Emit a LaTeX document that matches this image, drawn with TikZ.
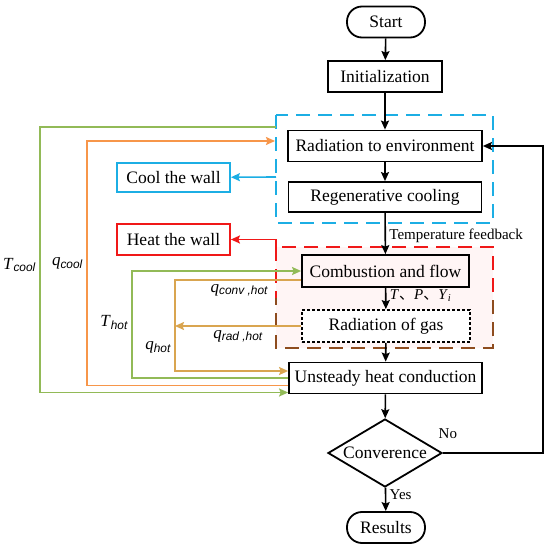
\documentclass[tikz,border=0pt]{standalone}
\usepackage{fontspec}
\setmainfont{Liberation Serif}
\setsansfont{Liberation Sans}
\newfontfamily\cjk{Noto Sans CJK SC}
\usetikzlibrary{shapes.geometric,arrows.meta}

\definecolor{cgreen}{HTML}{92BA57}
\definecolor{corange}{HTML}{F7964A}
\definecolor{ctan}{HTML}{D9A550}
\definecolor{cblue}{HTML}{1CAEE4}
\definecolor{cred}{HTML}{F01818}
\definecolor{cbrown}{HTML}{8E4C1E}

\newcommand{\varsym}[2]{\textit{#1}\textsubscript{\sffamily\itshape #2}}

\begin{document}
\begin{tikzpicture}[x=1pt,y=-1pt,
    box/.style={draw,line width=1.8pt,minimum height=31pt,inner sep=2pt,font=\fontsize{17.5}{20}\selectfont},
    term/.style={box,rounded corners=15pt,minimum width=78pt},
    decide/.style={draw,diamond,aspect=1.7,line width=1.8pt,minimum width=114pt,minimum height=68pt,inner sep=0pt,font=\fontsize{17.5}{20}\selectfont},
    flow/.style={->,line width=1.6pt},
    side/.style={->,line width=1.6pt},
    lbl/.style={text=black,font=\fontsize{15}{17}\selectfont},
    sym/.style={text=black,font=\fontsize{17}{19}\selectfont},
    zone/.style={line width=1.7pt,dash pattern=on 14pt off 8pt},
    >={Stealth[length=9pt,width=8pt,inset=1.5pt]}
]
\useasboundingbox (0,0) rectangle (550,549);

% dashed zones
\fill[red!4] (276,247) rectangle (493,348);
\draw[zone,cblue] (276,115) rectangle (493,223);
\draw[zone,cred] (276,247) rectangle (493,348);
\begin{scope}
  \clip (270,298) rectangle (500,355);
  \draw[zone,cbrown] (276,247) rectangle (493,348);
\end{scope}

% main chain
\node[term] (start) at (386,22) {Start};
\node[box,minimum width=114pt] (init) at (385,76.5) {Initialization};
\node[box,minimum width=194pt,fill=white] (env) at (385,146) {Radiation to environment};
\node[box,minimum width=193pt,minimum height=30pt] (regen) at (385,197) {Regenerative cooling};
\node[box,minimum width=167pt,minimum height=32pt] (comb) at (385.5,271) {Combustion and flow};
\node[box,minimum width=168pt,minimum height=32pt,fill=white,dash pattern=on 3pt off 2pt] (radgas) at (386,326) {Radiation of gas};
\node[box,minimum width=193pt,fill=white] (cond) at (385.5,378) {Unsteady heat conduction};
\node[decide] (conv) at (385,453) {Converence};
\node[term] (results) at (386,527.5) {Results};

% side boxes
\node[box,draw=cblue,minimum width=113pt,minimum height=29pt] (cool) at (173.5,177.5) {Cool the wall};
\node[box,draw=cred,minimum width=113pt,minimum height=31pt] (heat) at (173.5,239.5) {Heat the wall};

\draw[flow] (start) -- (init);
\draw[flow] (init) -- (env);
\draw[flow] (env) -- (regen);
\draw[flow] (regen) -- node[lbl,right,pos=0.55] {Temperature feedback} (comb);
\draw[flow] (comb) -- node[lbl,right,pos=0.38] {\textit{T}{\cjk 、}\textit{P}{\cjk 、}\textit{Y}\textsubscript{\itshape i}} (radgas);
\draw[flow] (radgas) -- (cond);
\draw[flow] (cond) -- (conv);
\draw[flow] (conv) -- node[lbl,right,pos=0.3] {Yes} (results);
\draw[flow] (conv.east) -- node[lbl,above=10pt,pos=0.05] {No} ++(100,0) |- (env.east);

% wall exchange
\coordinate (coolsrc) at (276,177);
\coordinate (heatsrc) at (276,250);
\draw[side,cblue] (coolsrc) -- (cool);
\draw[side,cred] (heatsrc) |- (heat);

% coupling lines
\coordinate (xtc) at (40,0);
\coordinate (xqc) at (87,0);
\coordinate (xth) at (132,0);
\coordinate (xqh) at (175,0);
\coordinate (tcool) at (276,127);
\coordinate (qcool) at (275,141);
\coordinate (tcin) at ([yshift=-14.5pt]cond.west);
\coordinate (qcin) at ([yshift=-7.5pt]cond.west);
\coordinate (qhin) at ([yshift=7pt]cond.west);
\coordinate (qhout) at ([yshift=-9pt]comb.west);

\draw[side,cgreen] (tcool) -| node[sym,left,pos=0.76] {\varsym{T}{cool}} (tcin -| xtc) -- (tcin);
\draw[side,corange] (qcin) -- (qcin -| xqc) |- node[sym,left,pos=0.25] {\varsym{q}{cool}} (qcool);
\draw[side,cgreen] (cond.west) -- (cond.west -| xth) |- node[sym,left,pos=0.26] {\varsym{T}{hot}} (comb.west);
\draw[side,ctan] (qhout) -- node[sym,below,pos=0.49] {\varsym{q}{conv ,hot}} (qhout -| xqh) |- node[sym,left,pos=0.37] {\varsym{q}{hot}} (qhin);
\draw[side,ctan] (radgas.west) -- node[sym,below] {\varsym{q}{rad ,hot}} (radgas.west -| xqh);
\end{tikzpicture}
\end{document}
